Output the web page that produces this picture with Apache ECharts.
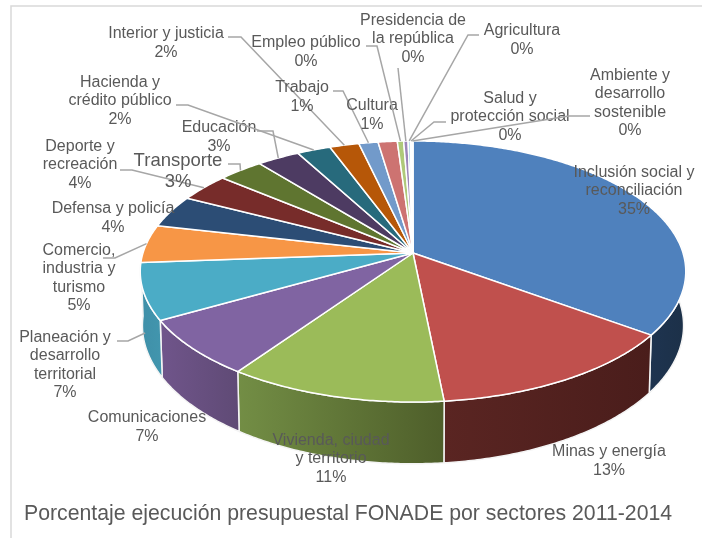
<!DOCTYPE html>
<html>
<head>
<meta charset="utf-8">
<style>html,body{margin:0;padding:0;background:#fff}#chart{width:702px;height:538px}</style>
<script src="https://cdn.jsdelivr.net/npm/echarts@6/dist/echarts.min.js"></script>
</head>
<body>
<div id="chart"></div>
<script>
// Budget execution share per sector, in percent
const sectors = [
  ['Inclusión social y', 'reconciliación'], ['Minas y energía'], ['Vivienda, ciudad', 'y territorio'],
  ['Comunicaciones'], ['Planeación y', 'desarrollo', 'territorial'], ['Comercio,', 'industria y', 'turismo'],
  ['Defensa y policía'], ['Deporte y', 'recreación'], ['Transporte'], ['Educación'],
  ['Hacienda y', 'crédito público'], ['Interior y justicia'], ['Trabajo'], ['Cultura'],
  ['Empleo público'], ['Presidencia de', 'la república'], ['Agricultura'], ['Salud y', 'protección social'],
  ['Ambiente y', 'desarrollo', 'sostenible']
];
const shares = [35.0, 13.4, 11.3, 7.1, 7.0, 4.7, 4.0, 3.5, 3.1, 2.9, 2.3, 2.0, 1.3, 1.3, 0.43, 0.3, 0.15, 0.1, 0.08];
const topColors = ['#4F81BD', '#C0504D', '#9BBB59', '#8064A2', '#4BACC6', '#F79646', '#2C4D75', '#772C2A',
  '#5F7530', '#4D3B62', '#276A7C', '#B65708', '#729ACA', '#CD7371', '#AFC97A', '#9D86B9', '#6FBDD1', '#D6E4F2', '#A9C4E6'];
const sideStops = {
  0: ['#1E3450', '#1C3048'], 1: ['#5A2522', '#4A1D1B'], 2: ['#738E45', '#4E5E2A'],
  3: ['#70558B', '#5F4A75'], 4: ['#3F8FA8', '#4296AE']
};

// Label layout: text block centres and leader polyline start points
const labelCentres = [
  [634, 191], [609, 461], [331, 459], [147, 427], [65, 365], [79, 278], [113, 218], [80, 165], [178, 171.5], [219, 137],
  [120, 101], [166, 43], [302, 97], [372, 115], [306, 52], [413, 39], [522, 40], [510, 117], [630, 103]
];
const leaderStarts = {
  4: [[117, 341], [128, 341]], 5: [[103, 258], [115, 258]], 7: [[120, 170], [132, 170]], 8: [[228, 164], [240, 164]],
  9: [[257, 131], [273, 131]], 10: [[176, 105], [188, 105]], 11: [[228, 37], [241, 37]], 12: [[333, 91], [343, 91]],
  14: [[366, 46], [377, 46]], 15: [[398, 68]], 16: [[479, 35], [468, 35]], 17: [[446, 122], [434, 122]],
  18: [[590, 116], [569, 116]]
};
const largeLabels = [8];

// Perspective disc: the tilt shifts the hub above the ellipse centre and enlarges the near rim
const hub = [413, 253], radiusX = 270, radiusY = 127.9, perspective = 0.1417, thickness = 53, bottomShrink = 0.992;

const total = shares.reduce((a, b) => a + b, 0);
const startAngles = [];
shares.reduce((acc, v, i) => { startAngles[i] = acc; return acc + v; }, 0);
const toAngle = v => v / total * 2 * Math.PI;

function project(angle, lower) {
  const x = Math.sin(angle), y = -Math.cos(angle), w = 1 - perspective * y;
  const shrink = lower ? bottomShrink : 1;
  return [hub[0] + radiusX * x / w * shrink, hub[1] + (radiusY * y + (lower ? thickness : 0)) / w];
}
function arc(from, to, lower) {
  const n = Math.max(2, Math.ceil((to - from) / 0.01));
  const pts = [];
  for (let k = 0; k <= n; k++) pts.push(project(from + (to - from) * k / n, lower));
  return pts;
}
const sliceFrom = i => toAngle(startAngles[i]);
const sliceTo = i => toAngle(startAngles[i] + shares[i]);

function renderSide(params) {
  const i = params.dataIndex;
  // Only the first five slices reach the near half of the rim
  if (!sideStops[i]) return { type: 'group', children: [] };
  const from = Math.max(sliceFrom(i), Math.PI * 0.4), to = sliceTo(i);
  const stops = sideStops[i];
  return {
    type: 'polygon',
    shape: { points: arc(from, to, false).concat(arc(from, to, true).reverse()) },
    style: {
      fill: new echarts.graphic.LinearGradient(0, 0, 1, 0, [{ offset: 0, color: stops[0] }, { offset: 1, color: stops[1] }]),
      stroke: '#F4F4F4', lineWidth: 1.5, lineJoin: 'round'
    }
  };
}
function renderTop(params) {
  const i = params.dataIndex;
  return {
    type: 'polygon',
    shape: { points: [hub].concat(arc(sliceFrom(i), sliceTo(i), false)) },
    style: { fill: topColors[i], stroke: '#FFFFFF', lineWidth: 1.5, lineJoin: 'round' }
  };
}
function renderLabel(params) {
  const i = params.dataIndex;
  const size = largeLabels.includes(i) ? 18.5 : 16;
  const children = [];
  if (leaderStarts[i]) {
    const mid = toAngle(startAngles[i] + shares[i] / 2);
    let end = project(mid, false);
    // Planeación points at the rim wall rather than the top face
    if (i === 4) { const low = project(mid, true); end = [end[0] + (low[0] - end[0]) * 0.75, end[1] + (low[1] - end[1]) * 0.75]; }
    children.push({
      type: 'polyline',
      shape: { points: leaderStarts[i].concat([end]) },
      style: { fill: null, stroke: '#A6A6A6', lineWidth: 1.5 }
    });
  }
  children.push({
    type: 'text',
    style: {
      x: labelCentres[i][0], y: labelCentres[i][1],
      text: sectors[i].concat(Math.round(shares[i]) + '%').join('\n'),
      font: size + 'px "Liberation Sans", Arial, sans-serif',
      fill: '#595959', align: 'center', verticalAlign: 'middle', lineHeight: size * 1.15
    }
  });
  return { type: 'group', children };
}
const sliceData = shares.map(v => [v]);
const chart = echarts.init(document.getElementById('chart'), null, { renderer: 'canvas' });
chart.setOption({
  animation: false,
  backgroundColor: '#FFFFFF',
  title: {
    text: 'Porcentaje ejecución presupuestal FONADE por sectores 2011-2014',
    left: 24, top: 504, padding: 0,
    textStyle: { fontFamily: '"Liberation Sans", Arial, sans-serif', fontSize: 21.25, fontWeight: 'normal', color: '#595959' }
  },
  graphic: [{
    type: 'rect', silent: true, z: -1,
    shape: { x: 11, y: 6, width: 800, height: 700 },
    style: { fill: null, stroke: '#D9D9D9', lineWidth: 1.5 }
  }],
  series: [
    { type: 'custom', coordinateSystem: 'none', renderItem: renderSide, data: sliceData, silent: true, z: 2 },
    { type: 'custom', coordinateSystem: 'none', renderItem: renderTop, data: sliceData, silent: true, z: 3 },
    { type: 'custom', coordinateSystem: 'none', renderItem: renderLabel, data: sliceData, silent: true, z: 4 }
  ]
});
</script>
</body>
</html>
